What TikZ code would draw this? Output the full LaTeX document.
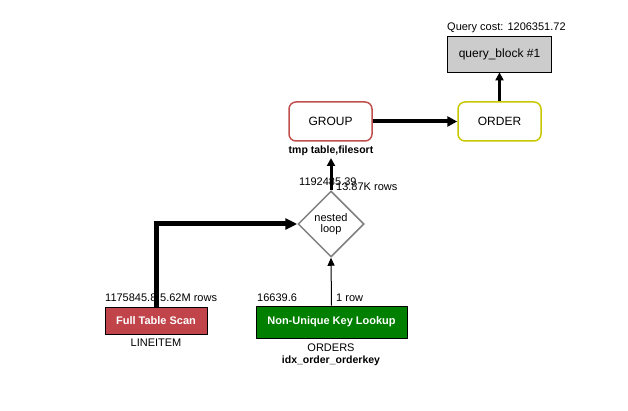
\documentclass[tikz,border=0pt]{standalone}
\usepackage{fontspec}
\setmainfont{Liberation Sans}
\usetikzlibrary{shapes.geometric,arrows.meta}
\definecolor{grpred}{HTML}{C0504D}
\definecolor{ordyel}{HTML}{C8C800}
\definecolor{ftsred}{HTML}{C0444A}
\definecolor{nukgreen}{HTML}{007F00}
\definecolor{qbgray}{HTML}{CCCCCC}
\definecolor{diagray}{HTML}{808080}
\tikzset{
  opbox/.style={draw, rounded corners=7pt, line width=1.5pt, minimum width=83pt, minimum height=39pt, font=\fontsize{12}{14}\selectfont, inner sep=0pt},
  accbox/.style={draw=black, line width=0.8pt, text=white, font=\bfseries\fontsize{11}{13}\selectfont, inner sep=0pt},
  lbl/.style={font=\fontsize{11}{13}\selectfont, inner sep=0pt},
  blbl/.style={font=\bfseries\fontsize{10.5}{12}\selectfont, inner sep=0pt},
  conn/.style={-{Triangle[length=8pt,width=8pt]}},
}
\begin{document}
\begin{tikzpicture}[x=1pt,y=-1pt]
\useasboundingbox[fill=white] (0,0) rectangle (628,411);
% query block
\node[draw=black, fill=qbgray, line width=0.8pt, minimum width=104pt, minimum height=36pt, inner sep=0pt, font=\fontsize{12}{14}\selectfont] (qb) at (499.5,54) {query\_block \#1};
\node[lbl, anchor=base west] (qcost) at (447,31) {Query cost: 1206351.72};
% operations
\node[opbox, draw=grpred] (grp) at (330.5,121.5) {GROUP};
\node[opbox, draw=ordyel] (ord) at (499.5,121.5) {ORDER};
\node[blbl, anchor=base] (grpnote) at (331,154) {tmp table,filesort};
% nested loop
\node[diamond, aspect=1, draw=diagray, line width=1.5pt, minimum width=66pt, minimum height=66pt, inner sep=0pt, align=center, font=\fontsize{11}{11.5}\selectfont] (nl) at (331,224) {nested\\loop};
% access nodes
\node[accbox, fill=ftsred, minimum width=102pt, minimum height=27pt] (fts) at (156,320.5) {Full Table Scan};
\node[accbox, fill=nukgreen, minimum width=151pt, minimum height=32pt] (nuk) at (331.5,322) {Non-Unique Key Lookup};
% labels
\node[lbl, anchor=base] (li) at (156,346) {LINEITEM};
\node[lbl, anchor=base] (ords) at (331,351) {ORDERS};
\node[blbl, anchor=base] (idx) at (331,363) {idx\_order\_orderkey};
\node[lbl, anchor=base west] (c1) at (105,301) {1175845.8};
\node[lbl, anchor=base west] (r1) at (160,301) {5.62M rows};
\node[lbl, anchor=base west] (c2) at (257,301) {16639.6};
\node[lbl, anchor=base west] (r2) at (336,301) {1 row};
\node[lbl, anchor=base west] (c3) at (299,186) {1192485.39};
\node[lbl, anchor=base west] (r3) at (336,191) {13.87K rows};
% connectors
\coordinate (grpin) at (331,158);
\draw[line width=5pt, -{Triangle[length=12pt,width=11pt]}] (fts.north) |- (nl.west);
\draw[line width=1pt, -{Triangle[length=8pt,width=7pt]}] (nuk.north) -- (nl.south);
\draw[conn, line width=3pt] (nl.north) -- (grpin);
\draw[line width=4pt, -{Triangle[length=10pt,width=10pt]}] (grp.east) -- (ord.west);
\draw[conn, line width=3pt] (ord.north) -- (qb.south);
\end{tikzpicture}
\end{document}
